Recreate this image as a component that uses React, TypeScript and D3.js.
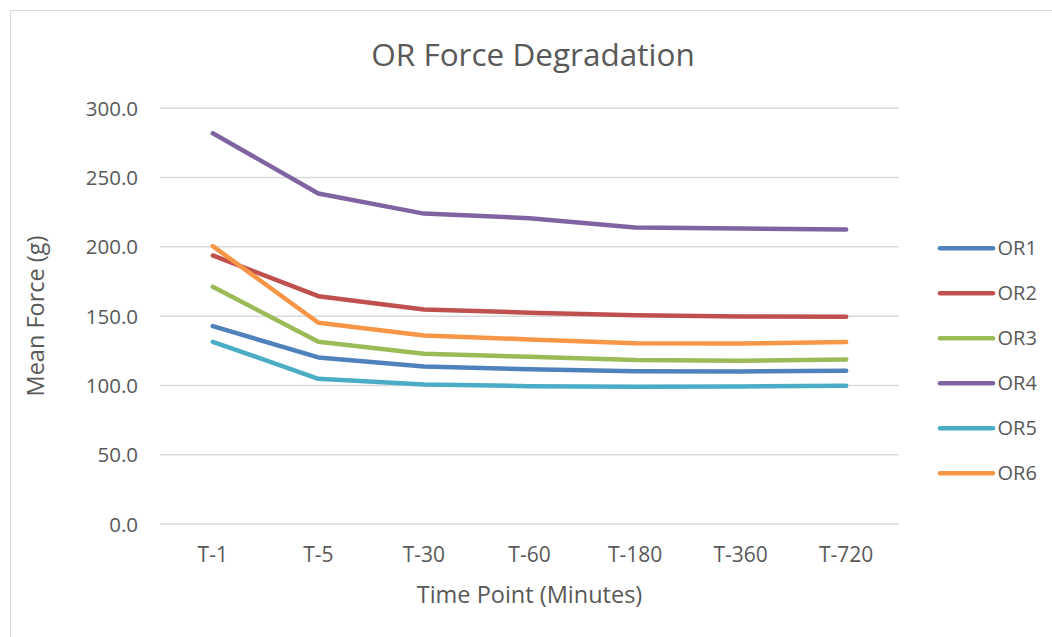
import React from "react";
import * as d3 from "d3";

const categories = ["T-1", "T-5", "T-30", "T-60", "T-180", "T-360", "T-720"];
const seriesNames = ["OR1", "OR2", "OR3", "OR4", "OR5", "OR6"];
const or1 = [142.8, 120.2, 113.7, 111.6, 110.2, 110.1, 110.6];
const or2 = [193.8, 164.4, 154.8, 152.5, 150.7, 149.8, 149.5];
const or3 = [171.2, 131.5, 122.8, 120.7, 118.3, 117.8, 118.8];
const or4 = [282.0, 238.5, 224.0, 220.7, 214.0, 213.2, 212.5];
const or5 = [131.5, 104.8, 100.7, 99.5, 99.0, 99.3, 99.7];
const or6 = [200.5, 145.2, 136.1, 133.2, 130.5, 130.3, 131.3];
const yTicks = [0, 50, 100, 150, 200, 250, 300];
const colors = ["#4f81bd", "#c0504d", "#9bbb59", "#8064a2", "#4bacc6", "#f79646"];

const seriesValues = [or1, or2, or3, or4, or5, or6];

export default function App() {
  const W = 1052, H = 637;
  const left = 160, right = 899, top = 108.3, bottom = 524;
  const x = d3.scaleBand().domain(categories).range([left, right]);
  const y = d3.scaleLinear().domain([0, 300]).range([bottom, top]);
  const line = d3
    .line<number>()
    .x((_, i) => (x(categories[i]) as number) + x.bandwidth() / 2)
    .y((d) => y(d));
  const font = "'Open Sans', sans-serif";
  const textColor = "#595959";
  return (
    <svg width={W} height={H} style={{ position: "absolute", left: 0, top: 0, background: "#fff" }} fontFamily={font}>
      <rect x={0} y={0} width={W} height={H} fill="#fff" />
      <rect x={10.5} y={10.5} width={W + 20} height={H + 20} fill="none" stroke="#d9d9d9" strokeWidth={1} />
      <text x={533} y={66} textAnchor="middle" fontSize={31.5} fill={textColor}>OR Force Degradation</text>
      {yTicks.map((t) => (
        <g key={t}>
          <line x1={left} x2={right} y1={y(t)} y2={y(t)} stroke="#d9d9d9" strokeWidth={1.5} />
          <text x={138} y={y(t) + 7.5} textAnchor="end" fontSize={20.5} fill={textColor}>{t.toFixed(1)}</text>
        </g>
      ))}
      {categories.map((c) => (
        <text key={c} x={(x(c) as number) + x.bandwidth() / 2} y={562.3} textAnchor="middle" fontSize={21} fill={textColor}>{c}</text>
      ))}
      <text x={529.5} y={603} textAnchor="middle" fontSize={23.5} fill={textColor}>Time Point (Minutes)</text>
      <text transform={`translate(44,316) rotate(-90)`} textAnchor="middle" fontSize={23.5} fill={textColor}>Mean Force (g)</text>
      {seriesValues.map((vals, i) => (
        <path key={seriesNames[i]} d={line(vals) as string} fill="none" stroke={colors[i]} strokeWidth={4.5} strokeLinecap="round" strokeLinejoin="round" />
      ))}
      {seriesNames.map((n, i) => (
        <g key={n}>
          <line x1={940} x2={993} y1={248.3 + i * 45} y2={248.3 + i * 45} stroke={colors[i]} strokeWidth={4.5} strokeLinecap="round" />
          <text x={997.5} y={248.3 + i * 45 + 7} fontSize={20} fill={textColor}>{n}</text>
        </g>
      ))}
    </svg>
  );
}
